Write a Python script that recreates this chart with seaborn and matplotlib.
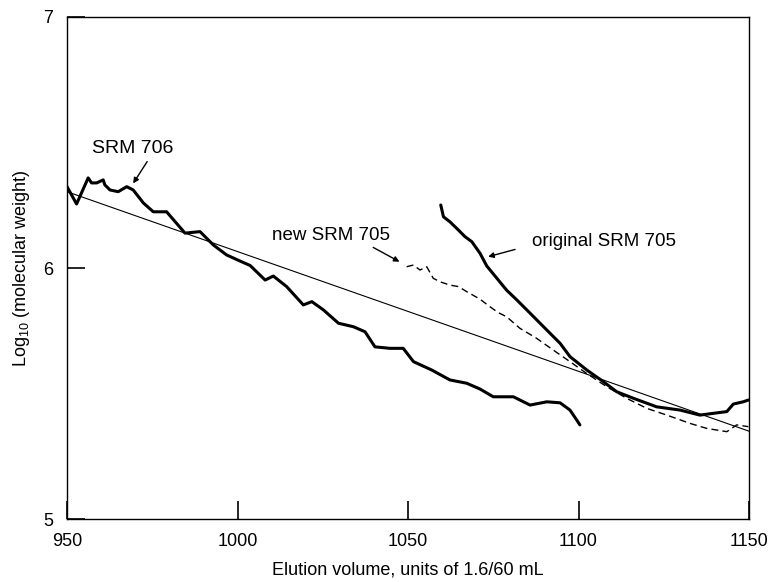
import numpy as np
import pandas as pd
import seaborn as sns
import matplotlib
import matplotlib.pyplot as plt

matplotlib.use("Agg")

# SRM 706 (thick, 950-1100)
srm706_x = [950.0, 952.8, 956.2, 957.2, 958.7, 960.6, 961.1, 962.6, 965.0, 967.5,
            969.4, 972.4, 975.3, 979.2, 984.6, 989.0, 992.9, 996.8, 1000.7, 1003.7,
            1008.1, 1010.5, 1014.4, 1019.3, 1021.8, 1025.2, 1029.6, 1034.0, 1037.4,
            1040.3, 1044.7, 1048.6, 1051.6, 1056.9, 1062.3, 1067.2, 1071.1, 1075.0,
            1080.9, 1085.8, 1090.7, 1094.6, 1097.5, 1099.5, 1100.4]
srm706_y = [6.324, 6.255, 6.359, 6.339, 6.339, 6.351, 6.331, 6.311, 6.304, 6.324,
            6.311, 6.259, 6.224, 6.224, 6.139, 6.145, 6.092, 6.052, 6.028, 6.010,
            5.952, 5.968, 5.926, 5.853, 5.866, 5.833, 5.780, 5.766, 5.746,
            5.686, 5.680, 5.680, 5.627, 5.594, 5.554, 5.541, 5.518, 5.487,
            5.487, 5.454, 5.467, 5.463, 5.434, 5.394, 5.375]

# original SRM 705 (thick)
orig705_x = [1059.6, 1060.4, 1062.3, 1064.8, 1066.7, 1068.7, 1071.1, 1073.1, 1076.0,
             1078.9, 1081.9, 1085.8, 1090.7, 1094.6, 1097.5, 1102.4, 1107.3, 1111.2,
             1116.1, 1122.9, 1129.8, 1135.6, 1139.5, 1143.5, 1145.4, 1148.3, 1149.8]
orig705_y = [6.251, 6.204, 6.184, 6.151, 6.125, 6.105, 6.059, 6.008, 5.960,
             5.912, 5.873, 5.820, 5.753, 5.700, 5.647, 5.594, 5.547, 5.507,
             5.481, 5.447, 5.434, 5.414, 5.421, 5.428, 5.458, 5.467, 5.474]

# new SRM 705 (dashed)
new705_x = [1049.6, 1051.6, 1053.5, 1055.5, 1057.4, 1059.4, 1062.3, 1064.8, 1067.2,
            1071.1, 1074.0, 1076.5, 1078.9, 1082.8, 1087.7, 1092.6, 1097.5, 1102.4,
            1108.3, 1114.1, 1120.0, 1125.9, 1132.7, 1137.6, 1143.5, 1146.4, 1149.8]
new705_y = [6.005, 6.012, 5.992, 6.005, 5.959, 5.945, 5.932, 5.926, 5.906,
            5.876, 5.846, 5.822, 5.806, 5.760, 5.720, 5.673, 5.627, 5.580,
            5.527, 5.481, 5.441, 5.414, 5.381, 5.361, 5.348, 5.375, 5.368]

# straight calibration line
fit_x = [950, 1150]
fit_y = [6.304, 5.350]

x_ticks = [950, 1000, 1050, 1100, 1150]
y_ticks = [5, 6, 7]

sns.set_theme(style="white")
plt.rcParams['font.family'] = ['Liberation Sans', 'DejaVu Sans']
plt.rcParams['mathtext.fontset'] = 'custom'
plt.rcParams['mathtext.rm'] = 'Liberation Sans'
plt.rcParams['mathtext.it'] = 'Liberation Sans'
plt.rcParams['text.color'] = 'black'
plt.rcParams['axes.labelcolor'] = 'black'

fig = plt.figure(figsize=(7.74, 5.82), dpi=100)
ax = fig.add_axes([0.0866, 0.1082, 0.8811, 0.8626])

sns.lineplot(x=fit_x, y=fit_y, ax=ax, color="black", linewidth=0.8)
sns.lineplot(x=new705_x, y=new705_y, ax=ax, color="black", linewidth=1.0,
             linestyle=(0, (5, 3)), sort=False)
sns.lineplot(x=srm706_x, y=srm706_y, ax=ax, color="black", linewidth=2.2, sort=False)
sns.lineplot(x=orig705_x, y=orig705_y, ax=ax, color="black", linewidth=2.2, sort=False)

ax.set_xlim(950, 1150)
ax.set_ylim(5, 7)
ax.set_xticks(x_ticks)
ax.set_yticks(y_ticks)
ax.tick_params(direction="in", length=13, width=1.2, colors="black",
               labelsize=13, bottom=True, left=True)
ax.tick_params(axis="x", pad=10)
ax.tick_params(axis="y", pad=10)
for s in ax.spines.values():
    s.set_color("black")
    s.set_linewidth(1.0)

ax.set_xlabel("Elution volume, units of 1.6/60 mL", fontsize=13, labelpad=8)
ax.set_ylabel(r"Log$_{10}$ (molecular weight)", fontsize=13, labelpad=8)

arrow = dict(arrowstyle="-|>", color="black", lw=1.0, mutation_scale=8,
             shrinkA=0, shrinkB=0)
ax.text(969.4, 6.478, "SRM 706", fontsize=14, ha="center", va="center")
ax.annotate("", xy=(969.4, 6.337), xytext=(973.5, 6.424), arrowprops=arrow)
ax.text(1027.4, 6.131, "new SRM 705", fontsize=13.5, ha="center", va="center")
ax.annotate("", xy=(1047.5, 6.025), xytext=(1039.8, 6.082), arrowprops=arrow)
ax.text(1086.3, 6.105, "original SRM 705", fontsize=13.5, ha="left", va="center")
ax.annotate("", xy=(1073.5, 6.045), xytext=(1081.4, 6.074), arrowprops=arrow)

fig.savefig("out.png", dpi=100)
